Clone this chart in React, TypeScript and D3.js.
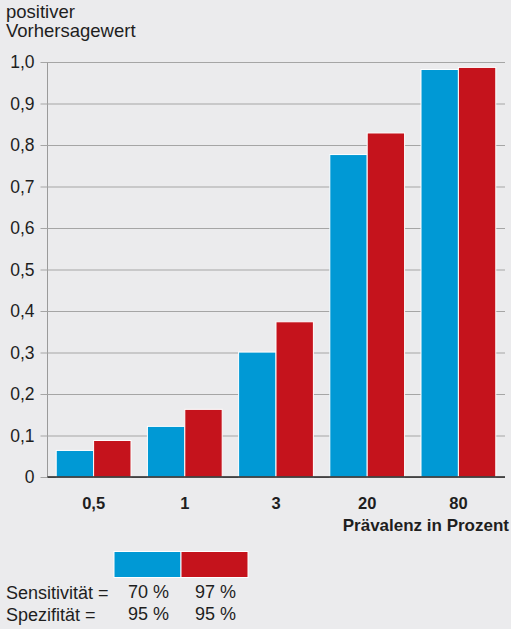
import { useEffect, useRef } from "react";
import { axisLeft, scaleBand, scaleLinear, select } from "d3";

const categories = ["0,5", "1", "3", "20", "80"];
const seriesKeys = ["s70", "s97"];
const blueValues = [0.064, 0.122, 0.301, 0.777, 0.982];
const redValues = [0.088, 0.163, 0.374, 0.829, 0.987];
const yTicks = [0, 0.1, 0.2, 0.3, 0.4, 0.5, 0.6, 0.7, 0.8, 0.9, 1.0];
const sensitivity = ["70 %", "97 %"];
const specificity = ["95 %", "95 %"];

const BLUE = "#0099d5";
const RED = "#c5131c";
const BG = "#ebebed";
const INK = "#1e1e1e";
const FONT = "'Liberation Sans', Arial, sans-serif";

export default function App() {
  const svgRef = useRef<SVGSVGElement | null>(null);

  useEffect(() => {
    document.body.style.margin = "0";
    const svg = select(svgRef.current);
    svg.selectAll("*").remove();

    const width = 511;
    const height = 629;
    svg.append("rect").attr("width", width).attr("height", height).attr("fill", BG);

    const left = 47.5;
    const right = 505;
    const top = 62;
    const bottom = 477;

    const x = scaleBand().domain(categories).range([48, 504]).paddingInner(0.18).paddingOuter(0.09);
    const x1 = scaleBand().domain(seriesKeys).range([0, x.bandwidth()]);
    const y = scaleLinear().domain([0, 1]).range([bottom, top]);

    // title
    const title = svg.append("text").attr("font-family", FONT).attr("font-size", 18.5).attr("fill", INK);
    title.append("tspan").attr("x", 6).attr("y", 18).text("positiver");
    title.append("tspan").attr("x", 6).attr("y", 37).text("Vorhersagewert");

    // y axis with gridlines
    const yAxis = svg
      .append("g")
      .attr("transform", `translate(${left},0)`)
      .call(
        axisLeft(y)
          .tickValues(yTicks)
          .tickSize(7)
          .tickPadding(6)
          .tickFormat((d) => (d === 0 ? "0" : (d as number).toFixed(1).replace(".", ",")))
      );
    yAxis.select(".domain").attr("stroke", "#9a9a9a").attr("d", `M0,${top}V${bottom}`);
    yAxis.selectAll(".tick line").attr("stroke", "#a5a5a5");
    yAxis
      .selectAll(".tick")
      .append("line")
      .attr("x1", 0)
      .attr("x2", right - left)
      .attr("stroke", "#a5a5a5");
    yAxis
      .selectAll(".tick text")
      .attr("font-family", FONT)
      .attr("font-size", 17.5)
      .attr("fill", INK);

    // bars
    const groups = svg
      .append("g")
      .selectAll("g")
      .data(categories)
      .enter()
      .append("g")
      .attr("transform", (d) => `translate(${x(d)},0)`);

    groups
      .selectAll("rect")
      .data((_, i) => [
        { key: "s70", value: blueValues[i], color: BLUE },
        { key: "s97", value: redValues[i], color: RED },
      ])
      .enter()
      .append("rect")
      .attr("x", (d) => x1(d.key) || 0)
      .attr("y", (d) => y(d.value))
      .attr("width", x1.bandwidth())
      .attr("height", (d) => bottom - y(d.value))
      .attr("fill", (d) => d.color)
      .attr("stroke", "#fff")
      .attr("stroke-width", 1);

    // baseline
    svg
      .append("line")
      .attr("x1", left)
      .attr("x2", right)
      .attr("y1", bottom)
      .attr("y2", bottom)
      .attr("stroke", "#222")
      .attr("stroke-width", 1.5);

    // x labels
    svg
      .append("g")
      .selectAll("text")
      .data(categories)
      .enter()
      .append("text")
      .attr("x", (d) => (x(d) || 0) + x.bandwidth() / 2)
      .attr("y", 509)
      .attr("text-anchor", "middle")
      .attr("font-family", FONT)
      .attr("font-size", 16.5)
      .attr("font-weight", "bold")
      .attr("fill", INK)
      .text((d) => d);

    svg
      .append("text")
      .attr("x", 509)
      .attr("y", 531)
      .attr("text-anchor", "end")
      .attr("font-family", FONT)
      .attr("font-size", 17)
      .attr("font-weight", "bold")
      .attr("fill", INK)
      .text("Prävalenz in Prozent");

    // legend
    const legendX = scaleBand().domain(seriesKeys).range([114, 248]);
    svg
      .append("g")
      .selectAll("rect")
      .data(seriesKeys)
      .enter()
      .append("rect")
      .attr("x", (d) => legendX(d) || 0)
      .attr("y", 551.5)
      .attr("width", legendX.bandwidth())
      .attr("height", 26)
      .attr("fill", (_, i) => (i === 0 ? BLUE : RED))
      .attr("stroke", "#fff")
      .attr("stroke-width", 1);

    const labelRows = [
      { label: "Sensitivität =", values: sensitivity, y: 599 },
      { label: "Spezifität =", values: specificity, y: 621 },
    ];
    labelRows.forEach((row) => {
      svg
        .append("text")
        .attr("x", 6)
        .attr("y", row.y)
        .attr("font-family", FONT)
        .attr("font-size", 18)
        .attr("fill", INK)
        .text(row.label);
      row.values.forEach((v, i) => {
        svg
          .append("text")
          .attr("x", (legendX(seriesKeys[i]) || 0) + 14)
          .attr("y", row.y - 1.5)
          .attr("font-family", FONT)
          .attr("font-size", 18)
          .attr("fill", INK)
          .text(v);
      });
    });
  }, []);

  return (
    <svg
      ref={svgRef}
      width={511}
      height={629}
      style={{ display: "block", position: "absolute", left: 0, top: 0 }}
    ></svg>
  );
}
